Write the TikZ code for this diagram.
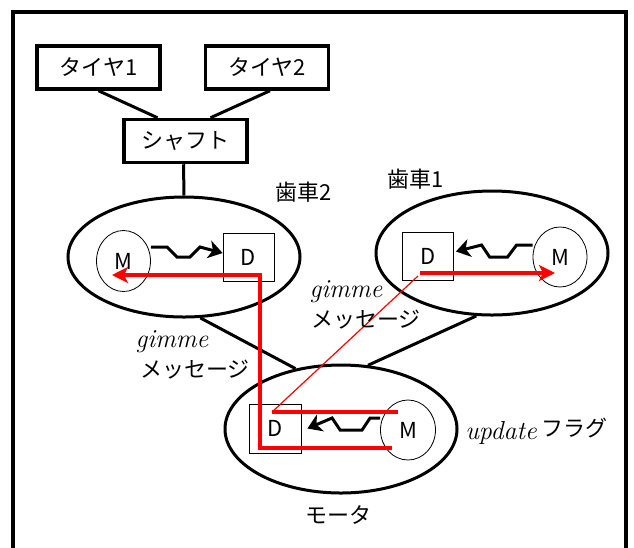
\documentclass[tikz,border=0pt]{standalone}
\usepackage{fontspec}
\newfontfamily\jp{Noto Sans CJK JP}
\usetikzlibrary{shapes.geometric,arrows.meta,calc}
\begin{document}
\begin{tikzpicture}[x=1pt,y=-1pt,
  jpf/.style={font=\jp\fontsize{22}{26}\selectfont},
  itf/.style={font=\fontsize{26}{30}\selectfont\itshape},
  box/.style={draw, line width=3.5pt, minimum width=123pt, minimum height=43pt, inner sep=0pt, jpf},
  gear/.style={draw, ellipse, line width=3pt, inner sep=0pt, minimum width=232pt},
  mcirc/.style={draw, ellipse, line width=0.8pt, inner sep=0pt, minimum width=54pt, minimum height=61pt, jpf},
  dbox/.style={draw, line width=0.8pt, inner sep=0pt, minimum width=51pt, minimum height=48pt, jpf},
  link/.style={line width=3pt},
  squig/.style={line width=3pt, line join=miter, -{Stealth[length=14pt,width=18pt,inset=4pt]}},
  redthick/.style={draw=red, line width=4pt},
  redthin/.style={draw=red, line width=1.2pt},
  redtip/.style={-{Stealth[length=16pt,width=16pt,inset=4pt]}}
]
\useasboundingbox (0,0) rectangle (634,547);
% outer frame
\draw[line width=3.5pt] (13,548) -- (13,12) -- (626,12) -- (626,548);

% boxes
\node[box] (tire1) at (98.5,67.5) {タイヤ1};
\node[box] (tire2) at (267,67.5) {タイヤ2};
\node[box] (shaft) at (185.5,141) {シャフト};

% gears
\node[gear, minimum height=120pt] (gear2) at (184,257) {};
\node[gear, minimum height=124pt] (gear1) at (492,253) {};
\node[gear, minimum height=128pt] (motor) at (341,429) {};

% links
\draw[link] (tire1.south) -- ([xshift=-28pt]shaft.north);
\draw[link] ([xshift=3pt]tire2.south) -- ([xshift=25pt]shaft.north);
\draw[link] ([xshift=-2pt]shaft.south) -- (gear2.north);
\draw[link] (gear2.-75) -- (motor.127);
\draw[link] (gear1.-104) -- (motor.67);

% inner parts
\node[mcirc] (m2) at (123.5,261) {M};
\node[dbox] (d2) at (248.5,257) {D};
\node[dbox] (d1) at (428,256.5) {D};
\node[mcirc, minimum height=60pt] (m1) at (560,257) {M};
\node[dbox, minimum width=52pt, minimum height=49pt] (dm) at (275,428.5) {D};
\node[mcirc, minimum width=55pt, minimum height=60pt] (mm) at (408,430) {M};

% squiggle arrows
\draw[squig] ([yshift=14pt]m2.east) -- ++(16,0) -- ++(10,10) -- ++(13,0) -- ++(10,-10) -- ([yshift=4pt]d2.west);
\draw[squig] ([yshift=12pt]m1.west) -- ++(-16,0) -- ++(-9,12) -- ++(-18,0) -- ++(-8,-12) -- ([xshift=2pt,yshift=5pt]d1.east);
\draw[squig] ([yshift=12pt]mm.west) -- ++(-10,0) -- ++(-8,12) -- ++(-22,0) -- ++(-8,-12) -- ([xshift=6pt]dm.east);

% red message paths
\coordinate (ra) at (392,448);
\coordinate (rb) at (260,448);
\coordinate (rc) at (260,275);
\coordinate (rd) at (112,275);
\coordinate (re) at (398,412);
\coordinate (rf) at (272,412);
\coordinate (rg) at (418,276);
\coordinate (rh) at (420,273);
\coordinate (ri) at (555,273);
\draw[redthick, line join=miter, redtip] (ra) -- (rb) -- (rc) -- (rd);
\draw[redthick] (re) -- (rf);
\draw[redthin] (rf) -- (rg);
\draw[redthick, redtip] (rh) -- (ri);

% labels
\node[jpf] (lg2) at (304,192) {歯車2};
\node[jpf] (lg1) at (416,179) {歯車1};
\node[itf] (gim1) at (346,292) {gimme};
\node[jpf] (msg1) at (366,320) {メッセージ};
\node[itf] (gim2) at (172,342) {gimme};
\node[jpf] (msg2) at (195,370) {メッセージ};
\node[itf] (upd) at (501,433) {update};
\node[jpf] (flag) at (574,428) {フラグ};
\node[jpf] (lmot) at (338,515) {モータ};
\end{tikzpicture}
\end{document}
